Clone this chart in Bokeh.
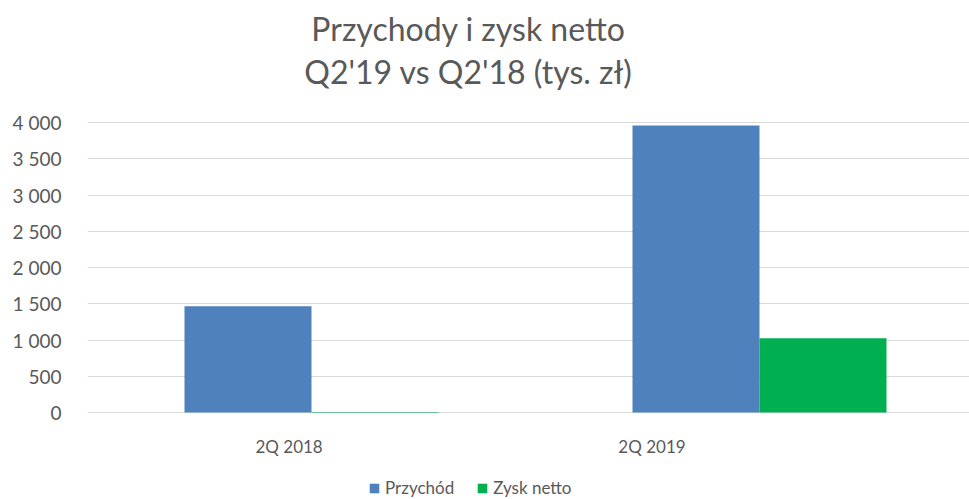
from bokeh.plotting import figure
from bokeh.models import (Range1d, FixedTicker, Legend, LegendItem, Label, ColumnDataSource)
from bokeh.core.properties import value
from bokeh.embed import file_html
from bokeh.resources import INLINE

# ---- data ----
CATEGORIES = ["2Q 2018", "2Q 2019"]
SERIES = ["Przychód", "Zysk netto"]
PRZYCHOD = [1466, 3960]
ZYSK = [8, 1025]
Y_TICKS = [0, 500, 1000, 1500, 2000, 2500, 3000, 3500, 4000]
Y_LABELS = ["0", "500", "1 000", "1 500", "2 000", "2 500", "3 000", "3 500", "4 000"]
TITLE_LINES = ["Przychody i zysk netto", "Q2'19 vs Q2'18 (tys. zł)"]

# ---- style / layout ----
COLORS = ["#4f81bd", "#00b050"]
TEXT_COLOR = "#595959"
GRID_COLOR = "#d9d9d9"
FONT = "Lato"
BAR_W = 0.2835
LABEL_SHIFT = [-0.05, -0.24]   # horizontal shift of the category labels (as in the reference)

# frame covers the whole canvas right of the value labels; the value axis maps
# 0 -> 412px and 4000 -> 122px from the top of the 499px canvas
PX_PER_UNIT = 290 / 4000
Y_START = -(499 - 412) / PX_PER_UNIT
Y_END = 4000 + 122 / PX_PER_UNIT

p = figure(width=969, height=499, output_backend="svg", toolbar_location=None,
           title_location=None, x_axis_location=None,
           x_range=Range1d(-0.5, -0.5 + 882 / 448), y_range=Range1d(Y_START, Y_END),
           min_border_left=87, min_border_right=0, min_border_top=0,
           min_border_bottom=0)
p.outline_line_color = None
p.background_fill_color = "white"
p.border_fill_color = "white"

xs = list(range(len(CATEGORIES)))
r1 = p.vbar(x=[x - BAR_W / 2 for x in xs], top=PRZYCHOD, width=BAR_W,
            fill_color=COLORS[0], line_color=None)
r2 = p.vbar(x=[x + BAR_W / 2 for x in xs], top=ZYSK, width=BAR_W,
            fill_color=COLORS[1], line_color=None)

# category labels under the baseline
cat_src = ColumnDataSource(dict(x=[x + s for x, s in zip(xs, LABEL_SHIFT)],
                                y=[0] * len(CATEGORIES), text=CATEGORIES))
p.text(x="x", y="y", text="text", source=cat_src, y_offset=34,
       text_align="center", text_baseline="alphabetic",
       text_font=value(FONT), text_font_size="17px", text_color=TEXT_COLOR)

# title (two centred lines)
for line, yy in zip(TITLE_LINES, [499 - 28, 499 - 71]):
    p.add_layout(Label(x=468 - 87, y=yy, x_units="screen", y_units="screen", text=line,
                       text_align="center", text_baseline="alphabetic",
                       text_font=FONT, text_font_size="32px", text_color=TEXT_COLOR))

# y axis
p.yaxis.ticker = FixedTicker(ticks=Y_TICKS)
p.yaxis.major_label_overrides = {t: l for t, l in zip(Y_TICKS, Y_LABELS)}
p.yaxis.axis_line_color = None
p.yaxis.major_tick_line_color = None
p.yaxis.minor_tick_line_color = None
p.yaxis.major_label_standoff = 20
p.yaxis.major_label_text_font = FONT
p.yaxis.major_label_text_font_size = "19px"
p.yaxis.major_label_text_color = TEXT_COLOR

p.xgrid.grid_line_color = None
p.ygrid.grid_line_color = GRID_COLOR
p.ygrid.grid_line_width = 1
p.ygrid.ticker = FixedTicker(ticks=Y_TICKS)

legend = Legend(items=[LegendItem(label=SERIES[0], renderers=[r1]),
                       LegendItem(label=SERIES[1], renderers=[r2])],
                orientation="horizontal", location=(368 - 87, 1),
                label_text_font=FONT, label_text_font_size="17px",
                label_text_color=TEXT_COLOR, glyph_width=12, glyph_height=12,
                label_standoff=5, spacing=22, padding=0, margin=0,
                border_line_color=None, background_fill_alpha=0,
                label_height=17)
p.add_layout(legend)

open("out.html", "w").write(file_html(p, INLINE))
